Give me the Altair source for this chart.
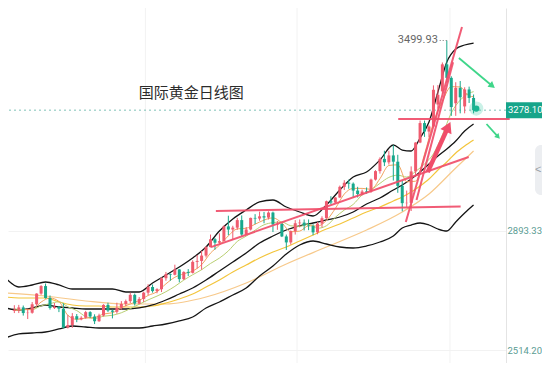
import altair as alt
import pandas as pd

UP = "#ef5b6e"
DOWN = "#18a88c"
RED = "#f04e6a"
GREEN = "#3fd68a"

# ---------------- candles (trading-day index, OHLC) ----------------
day = list(range(8, 112))
opens = [2639, 2643, 2650, 2632, 2633, 2660, 2694, 2718, 2680, 2648,
         2652, 2646, 2586, 2594, 2622, 2612, 2617, 2635, 2621, 2606,
         2624, 2658, 2640, 2636, 2649, 2661, 2670, 2690, 2662, 2677,
         2697, 2715, 2702, 2708, 2743, 2756, 2754, 2771, 2740, 2763,
         2760, 2795, 2798, 2815, 2842, 2867, 2856, 2861, 2908, 2898,
         2904, 2928, 2882, 2898, 2935, 2933, 2940, 2936, 2952, 2914,
         2916, 2876, 2857, 2893, 2918, 2920, 2911, 2909, 2889, 2917,
         2934, 2988, 2984, 3000, 3034, 3047, 3044, 3022, 3011, 3020,
         3019, 3057, 3084, 3123, 3112, 3134, 3114, 3037, 2982, 2983,
         3083, 3175, 3237, 3210, 3226, 3296, 3338, 3424, 3381, 3300,
         3349, 3290, 3344, 3317]
highs = [2657, 2658, 2656, 2646, 2667, 2695, 2721, 2726, 2688, 2664,
         2654, 2663, 2626, 2632, 2629, 2622, 2639, 2638, 2628, 2630,
         2660, 2665, 2643, 2665, 2670, 2675, 2697, 2694, 2683, 2700,
         2724, 2723, 2711, 2746, 2763, 2758, 2786, 2772, 2765, 2772,
         2800, 2817, 2830, 2845, 2882, 2871, 2886, 2911, 2942, 2910,
         2935, 2943, 2906, 2936, 2947, 2955, 2954, 2956, 2955, 2925,
         2918, 2882, 2895, 2928, 2930, 2930, 2930, 2915, 2922, 2940,
         2990, 3004, 3001, 3038, 3055, 3057, 3048, 3034, 3025, 3032,
         3060, 3087, 3128, 3149, 3149, 3167, 3136, 3055, 3022, 3099,
         3176, 3245, 3245, 3230, 3357, 3358, 3430, 3499.93, 3386, 3367,
         3371, 3351, 3353, 3328]
lows = [2632, 2632, 2624, 2613, 2630, 2655, 2690, 2678, 2643, 2645,
        2635, 2583, 2583, 2585, 2603, 2609, 2614, 2616, 2597, 2604,
        2621, 2635, 2615, 2630, 2643, 2654, 2664, 2656, 2660, 2667,
        2689, 2697, 2695, 2699, 2735, 2735, 2752, 2730, 2737, 2750,
        2758, 2774, 2770, 2809, 2841, 2834, 2853, 2860, 2880, 2865,
        2897, 2876, 2881, 2895, 2915, 2926, 2918, 2930, 2890, 2897,
        2874, 2833, 2850, 2882, 2905, 2895, 2896, 2880, 2883, 2905,
        2932, 2978, 2982, 2999, 3024, 3028, 2999, 3000, 3007, 3012,
        3015, 3054, 3076, 3100, 3105, 3054, 3015, 2956, 2970, 2957,
        3072, 3173, 3193, 3192, 3224, 3283, 3330, 3367, 3260, 3260,
        3268, 3268, 3301, 3268]
closes = [2643, 2650, 2632, 2633, 2660, 2694, 2718, 2680, 2648, 2652,
          2646, 2586, 2594, 2622, 2612, 2617, 2635, 2621, 2606, 2624,
          2658, 2640, 2636, 2649, 2661, 2670, 2690, 2662, 2677, 2697,
          2715, 2702, 2708, 2743, 2756, 2754, 2771, 2740, 2763, 2760,
          2795, 2798, 2815, 2842, 2867, 2856, 2861, 2908, 2898, 2904,
          2928, 2882, 2898, 2935, 2933, 2940, 2936, 2952, 2914, 2916,
          2876, 2857, 2893, 2918, 2920, 2911, 2909, 2889, 2917, 2934,
          2988, 2984, 3000, 3034, 3047, 3044, 3022, 3011, 3019, 3018,
          3057, 3084, 3123, 3112, 3134, 3114, 3037, 2982, 2983, 3083,
          3175, 3237, 3210, 3226, 3343, 3327, 3424, 3381, 3288, 3349,
          3319, 3344, 3317, 3278]

bb_i = [6, 9, 12, 15, 18, 21, 24, 27, 30, 33, 36, 39, 42, 45, 48, 51, 54, 57, 60,
        63, 66, 69, 72, 75, 78, 81, 84, 87, 90, 93, 95, 97, 99, 101, 103, 105,
        107, 109, 111]
bb_up = [2743.7, 2715.0, 2721.4, 2731.0, 2721.4, 2708.7, 2708.7, 2708.7, 2708.7,
         2699.1, 2699.1, 2727.8, 2753.2, 2778.7, 2807.4, 2842.4, 2893.3, 2931.5,
         2960.2, 2985.7, 2992.0, 2969.7, 2953.8, 2941.1, 2976.1, 3023.9, 3065.3,
         3081.2, 3119.4, 3167.2, 3151.2, 3148.1, 3189.4, 3240.4, 3335.9, 3431.4,
         3472.8, 3485.6, 3491.9]
bb_mid = [2648.2, 2641.8, 2648.2, 2657.7, 2651.3, 2648.2, 2645.0, 2645.0, 2645.0,
          2645.0, 2648.2, 2657.7, 2673.6, 2692.7, 2711.8, 2737.3, 2766.0, 2794.6,
          2823.3, 2855.1, 2877.4, 2896.5, 2909.3, 2918.8, 2928.4, 2937.9, 2953.8,
          2979.3, 2998.4, 3023.9, 3039.8, 3058.9, 3081.2, 3106.7, 3132.1, 3154.4,
          3179.9, 3211.7, 3234.0]
bb_low = [2552.6, 2565.4, 2568.6, 2571.7, 2581.3, 2590.8, 2587.7, 2584.5, 2584.5,
          2584.5, 2584.5, 2590.8, 2597.2, 2606.8, 2619.5, 2648.2, 2667.3, 2689.6,
          2711.8, 2750.0, 2781.9, 2820.1, 2848.8, 2861.5, 2851.9, 2842.4, 2839.2,
          2845.6, 2858.3, 2877.4, 2902.9, 2912.4, 2918.8, 2912.4, 2899.7, 2893.3,
          2922.0, 2950.6, 2976.1]
ma_yellow = [2683.2, 2680.0, 2680.0, 2680.0, 2667.3, 2657.7, 2654.5, 2654.5, 2651.3,
             2651.3, 2651.3, 2654.5, 2664.1, 2676.8, 2692.7, 2715.0, 2737.3, 2762.8,
             2785.1, 2807.4, 2826.5, 2842.4, 2861.5, 2880.6, 2899.7, 2915.6, 2934.7,
             2953.8, 2969.7, 2988.9, 3001.6, 3017.5, 3036.6, 3058.9, 3087.6, 3113.0,
             3141.7, 3164.0, 3183.1]
ma_pale_i = [6, 15, 24, 33, 42, 51, 60, 69, 78, 87, 95, 101, 107, 111]
ma_pale = [2695.9, 2686.4, 2670.5, 2660.9, 2660.9, 2683.2, 2727.8, 2788.3, 2842.4,
           2896.5, 2953.8, 3011.1, 3093.9, 3148.1]
ma_short_i = [8] + list(range(10, 111, 2)) + [111]
ma5 = [2640, 2643, 2644, 2667, 2680, 2669, 2625, 2612, 2616, 2618, 2629, 2633, 2649,
       2661, 2672, 2688, 2700, 2725, 2746, 2757, 2766, 2786, 2823, 2848, 2878, 2900,
       2902, 2915, 2928, 2935, 2919, 2891, 2893, 2910, 2909, 2927, 2965, 3011, 3029,
       3029, 3026, 3060, 3102, 3104, 3050, 3052, 3138, 3238, 3306, 3353, 3352, 3323,
       3321]
ma10 = [2645, 2643, 2643, 2655, 2662, 2668, 2652, 2640, 2621, 2615, 2622, 2625, 2633,
        2646, 2660, 2674, 2686, 2700, 2717, 2737, 2754, 2770, 2790, 2807, 2830, 2860,
        2877, 2896, 2913, 2920, 2922, 2910, 2908, 2915, 2902, 2910, 2937, 2960, 2978,
        3008, 3024, 3045, 3064, 3071, 3065, 3083, 3107, 3139, 3199, 3269, 3310, 3332,
        3337]

# ---------------- drawn annotations (day index, price) ----------------
trend_names = ["feb_high", "support", "resist", "steep_a", "steep_b"]
trend_i0 = [53.2, 52.1, 94.1, 95.8, 98.2]
trend_v0 = [2957, 2842, 3250, 2922, 2992]
trend_i1 = [108.1, 109.9, 119.1, 108.4, 106.4]
trend_v1 = [2971, 3129, 3250, 3543, 3431]

red_arrow_i = [100.7, 105.3]
red_arrow_v = [3081, 3225]
green_arrow_names = ["g1", "g2"]
green_i0 = [107.7, 113.9]
green_v0 = [3444, 3234]
green_i1 = [115.2, 116.5]
green_v1 = [3355, 3193]

grid_days = [37.4, 71.4, 105.7]
last_price = 3278.10
peak_day = 105
peak_price = 3499.93
title_text = "国际黄金日线图"
title_day = 47.7
title_price = 3333
dot_day = 111.6
dot_price = 3283

# ---------------- chart ----------------
xs = alt.Scale(domain=[7.70, 117.15], nice=False, zero=False)
ys = alt.Scale(domain=[2473.0, 3603.4], nice=False, zero=False)
yaxis = alt.Axis(orient="right", values=[2514.20, 2893.33], format=".2f", title=None,
                 ticks=False, labelColor="#5b9c93", labelFontSize=9.5, labelFont="Roboto",
                 labelPadding=1, domain=True, domainColor="#e4e4e4", grid=True,
                 gridColor="#f2f2f2", labelAlign="left")


def X(f):
    return alt.X(f, type="quantitative", scale=xs, axis=None)


def Y(f):
    return alt.Y(f, type="quantitative", scale=ys, axis=yaxis)


def line_layer(ix, vals, color, width, opacity=1.0):
    df = pd.DataFrame({"i": ix, "v": vals})
    return alt.Chart(df).mark_line(color=color, strokeWidth=width, opacity=opacity,
                                   interpolate="monotone", clip=True).encode(
        x=X("i"), y=Y("v"))


layers = []
layers.append(alt.Chart(pd.DataFrame({"i": grid_days})).mark_rule(
    color="#f2f2f2", strokeWidth=1).encode(x=X("i")))
layers.append(alt.Chart(pd.DataFrame({"p": [last_price]})).mark_rule(
    color="#5fb3a6", strokeDash=[2, 3], strokeWidth=1, opacity=0.8).encode(y=Y("p")))
layers.append(alt.Chart(pd.DataFrame({"a": [0]})).mark_rect(
    color="#eceef1", cornerRadius=6).encode(
    x=alt.value(527), x2=alt.value(548), y=alt.value(137), y2=alt.value(187)))
layers.append(alt.Chart(pd.DataFrame({"t": ["<"]})).mark_text(
    color="#9aa0a6", fontSize=11, align="left", baseline="middle").encode(
    x=alt.value(527), y=alt.value(162), text="t:N"))

layers.append(line_layer(ma_pale_i, ma_pale, "#f7c98b", 1.2))
layers.append(line_layer(bb_i, ma_yellow, "#f3c53c", 1.2))
layers.append(line_layer(bb_i, bb_up, "#151515", 1.3))
layers.append(line_layer(bb_i, bb_mid, "#151515", 1.3))
layers.append(line_layer(bb_i, bb_low, "#151515", 1.3))
layers.append(line_layer(ma_short_i, ma10, "#b9cf72", 1.0))
layers.append(line_layer(ma_short_i, ma5, "#f2a35f", 1.0))

candles = pd.DataFrame({"i": day, "o": opens, "h": highs, "l": lows, "c": closes})
ccolor = alt.condition("datum.c >= datum.o", alt.value(UP), alt.value(DOWN))
layers.append(alt.Chart(candles).mark_rule(strokeWidth=1, clip=True).encode(
    x=X("i"), y=Y("l"), y2="h:Q", color=ccolor))
layers.append(alt.Chart(candles).mark_bar(size=3, clip=True).encode(
    x=X("i"), y=Y("o"), y2="c:Q", color=ccolor))

trend_rows = []
for n, a0, b0, a1, b1 in zip(trend_names, trend_i0, trend_v0, trend_i1, trend_v1):
    trend_rows.append({"name": n, "i": a0, "v": b0})
    trend_rows.append({"name": n, "i": a1, "v": b1})
layers.append(alt.Chart(pd.DataFrame(trend_rows)).mark_line(
    color=RED, strokeWidth=2, opacity=0.92, clip=False).encode(
    x=X("i"), y=Y("v"), detail="name:N"))

# red arrow
layers.append(alt.Chart(pd.DataFrame({"i": red_arrow_i, "v": red_arrow_v})).mark_line(
    color=RED, strokeWidth=4.5, strokeCap="butt").encode(x=X("i"), y=Y("v")))
layers.append(alt.Chart(pd.DataFrame({"i": [red_arrow_i[1]], "v": [red_arrow_v[1]]})).mark_point(
    shape="triangle-up", filled=True, size=150, angle=25, color=RED, opacity=1).encode(
    x=X("i"), y=Y("v")))

# green arrows
g_rows = []
for n, a0, b0, a1, b1 in zip(green_arrow_names, green_i0, green_v0, green_i1, green_v1):
    g_rows.append({"name": n, "i": a0, "v": b0})
    g_rows.append({"name": n, "i": a1, "v": b1})
layers.append(alt.Chart(pd.DataFrame(g_rows)).mark_line(
    color=GREEN, strokeWidth=1.8, clip=False).encode(x=X("i"), y=Y("v"), detail="name:N"))
layers.append(alt.Chart(pd.DataFrame({"i": [green_i1[0]], "v": [green_v1[0]]})).mark_point(
    shape="triangle-up", filled=True, size=55, angle=129, color=GREEN, opacity=1).encode(
    x=X("i"), y=Y("v")))
layers.append(alt.Chart(pd.DataFrame({"i": [green_i1[1]], "v": [green_v1[1]]})).mark_point(
    shape="triangle-up", filled=True, size=35, angle=137, color=GREEN, opacity=1).encode(
    x=X("i"), y=Y("v")))

# glowing last-price dot
dot = pd.DataFrame({"i": [dot_day], "v": [dot_price]})
layers.append(alt.Chart(dot).mark_circle(size=200, color="#2cc7a0", opacity=0.25).encode(
    x=X("i"), y=Y("v")))
layers.append(alt.Chart(dot).mark_circle(size=40, color="#19b591", opacity=1).encode(
    x=X("i"), y=Y("v")))

# peak label with dotted leader
layers.append(alt.Chart(pd.DataFrame({"i": [peak_day - 1.6], "i2": [peak_day],
                                      "v": [peak_price]})).mark_rule(
    color="#777777", strokeDash=[1, 2], strokeWidth=1).encode(
    x=X("i"), x2="i2:Q", y=Y("v")))
layers.append(alt.Chart(pd.DataFrame({"i": [peak_day], "v": [peak_price],
                                      "t": [f"{peak_price:.2f}"]})).mark_text(
    align="right", baseline="middle", dx=-9, fontSize=11, font="Roboto",
    color="#666666").encode(x=X("i"), y=Y("v"), text="t:N"))

# chart caption
layers.append(alt.Chart(pd.DataFrame({"i": [title_day], "v": [title_price],
                                      "t": [title_text]})).mark_text(
    align="center", baseline="middle", fontSize=15, font="Noto Sans CJK SC",
    color="#2b2b2b").encode(x=X("i"), y=Y("v"), text="t:N"))

# last price tag on the axis
tag = pd.DataFrame({"p": [last_price], "t": [f"{last_price:.2f}"]})
layers.append(alt.Chart(tag).mark_rect(color="#17a58a", yOffset=-8, y2Offset=8).encode(
    x=alt.value(498), x2=alt.value(534), y=Y("p"), y2="p:Q"))
layers.append(alt.Chart(tag).mark_text(align="left", baseline="middle", color="white",
                                       fontSize=9.5, font="Roboto").encode(
    x=alt.value(500), y=Y("p"), text="t:N"))

chart = alt.layer(*layers).properties(
    width=498, height=355,
    padding={"left": 0, "right": 36, "top": 0, "bottom": 0},
    autosize=alt.AutoSizeParams(type="none"),
).configure_view(stroke=None)

chart.save("out.html", embed_options={"renderer": "svg", "actions": False})
